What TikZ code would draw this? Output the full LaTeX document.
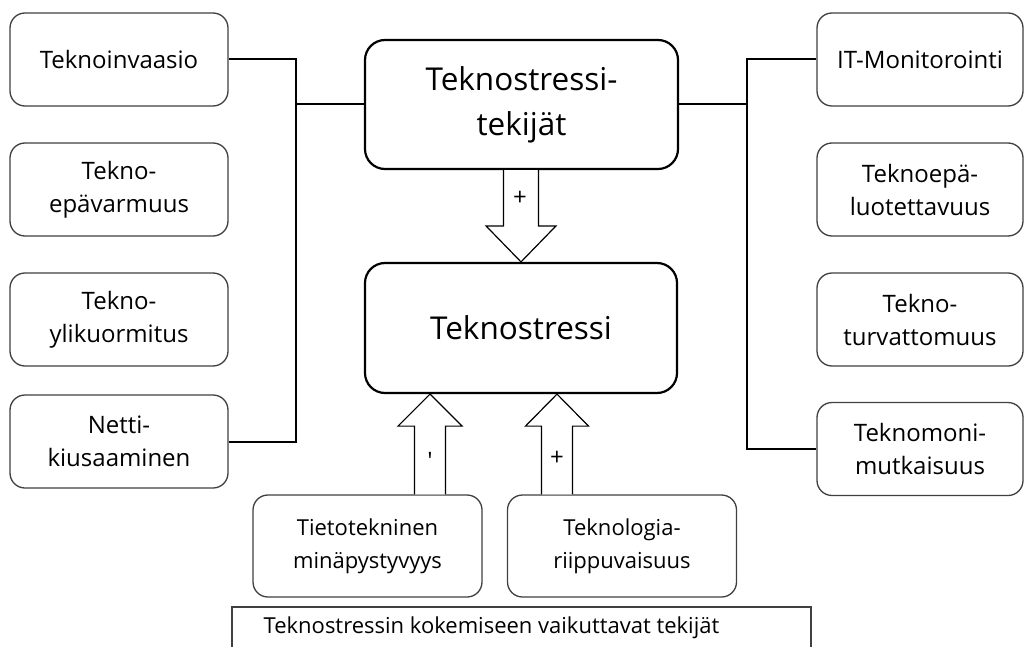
\documentclass[tikz,border=0pt]{standalone}
\usepackage{fontspec}
\setmainfont{Open Sans}
\usetikzlibrary{calc}
\begin{document}
\begin{tikzpicture}[x=1pt,y=-1pt,
  smallbox/.style={draw=black!75, line width=1.3pt, rounded corners=15pt,
    minimum height=93pt, align=center, inner sep=0pt,
    font=\fontsize{24}{33}\selectfont},
  leftbox/.style={smallbox, minimum width=218pt},
  rightbox/.style={smallbox, minimum width=206pt},
  lowbox/.style={smallbox, minimum width=229pt, minimum height=102pt,
    font=\fontsize{22}{33}\selectfont},
  bigbox/.style={draw=black, line width=2.2pt, rounded corners=20pt,
    minimum width=313pt, minimum height=129pt, align=center, inner sep=0pt,
    font=\fontsize{31.5}{45}\selectfont},
  conn/.style={draw=black, line width=2pt},
  blockarrow/.style={draw=black, line width=1.2pt, fill=white, line join=miter},
  sign/.style={font=\fontsize{24}{24}\selectfont, inner sep=0pt}]
  \clip (0,0) rectangle (1024,647);
  \useasboundingbox (0,0) rectangle (1024,647);
  \fill[white] (0,0) rectangle (1024,647);

  % central boxes
  \node[bigbox] (top) at (521.5,104.5) {Teknostressi-\\tekijät};
  \node[bigbox, minimum width=312pt, minimum height=130pt] (ts) at (521,328) {Teknostressi};

  % stressors on the left
  \node[leftbox] (L1) at (119,59.5) {Teknoinvaasio};
  \node[leftbox] (L2) at (119,189.5) {Tekno-\\epävarmuus};
  \node[leftbox] (L3) at (119,319.5) {Tekno-\\ylikuormitus};
  \node[leftbox] (L4) at (119,441.5) {Netti-\\kiusaaminen};

  % stressors on the right
  \node[rightbox] (R1) at (920,59.5) {IT-Monitorointi};
  \node[rightbox] (R2) at (920,189.5) {Teknoepä-\\luotettavuus};
  \node[rightbox] (R3) at (920,319.5) {Tekno-\\turvattomuus};
  \node[rightbox] (R4) at (920,449) {Teknomoni-\\mutkaisuus};

  % moderating factors
  \node[lowbox] (B1) at (367.5,546) {Tietotekninen\\minäpystyvyys};
  \node[lowbox] (B2) at (622,546) {Teknologia-\\riippuvaisuus};

  % caption box, open at the bottom edge, with its title
  \node[draw=black!75, line width=1.3pt, minimum width=579pt, minimum height=60pt,
        inner sep=0pt] (cap) at (521.5,637) {};
  \node[font=\fontsize{22}{33}\selectfont, inner sep=0pt] (captext) at (491.5,628)
        {Teknostressin kokemiseen vaikuttavat tekijät};

  % bracket connectors
  \coordinate (jl) at (296,0);
  \coordinate (jr) at (747,0);
  \draw[conn] (L1.east) -| (jl |- L4.east) -- (L4.east);
  \draw[conn] (top.west) -- (jl |- top.west);
  \draw[conn] (R1.west) -| (jr |- R4.west) -- (R4.west);
  \draw[conn] (top.east) -- (jr |- top.east);

  % block arrow: stressors -> technostress
  \coordinate (tipT) at (ts.north);
  \coordinate (baseT) at (top.south -| tipT);
  \draw[blockarrow] ($(baseT)+(-17.5,0)$) -- ($(tipT)+(-17.5,-36)$) -- ($(tipT)+(-35,-36)$)
     -- (tipT) -- ($(tipT)+(35,-36)$) -- ($(tipT)+(17.5,-36)$) -- ($(baseT)+(17.5,0)$);
  \node[sign] (pT) at (520,198) {+};

  % block arrows from the moderating factors
  \coordinate (tipA) at ($(ts.south)+(-91,0)$);
  \coordinate (baseA) at (tipA |- B1.north);
  \draw[blockarrow] ($(baseA)+(-15.5,0)$) -- ($(tipA)+(-15.5,32)$) -- ($(tipA)+(-32,32)$)
     -- (tipA) -- ($(tipA)+(32,32)$) -- ($(tipA)+(15.5,32)$) -- ($(baseA)+(15.5,0)$);
  \node[sign] (pA) at (430,461) {\textquotesingle};

  \coordinate (tipB) at ($(ts.south)+(36,0)$);
  \coordinate (baseB) at (tipB |- B2.north);
  \draw[blockarrow] ($(baseB)+(-15.5,0)$) -- ($(tipB)+(-15.5,32)$) -- ($(tipB)+(-31.5,32)$)
     -- (tipB) -- ($(tipB)+(31.5,32)$) -- ($(tipB)+(15.5,32)$) -- ($(baseB)+(15.5,0)$);
  \node[sign] (pB) at (557,458) {+};
\end{tikzpicture}
\end{document}
